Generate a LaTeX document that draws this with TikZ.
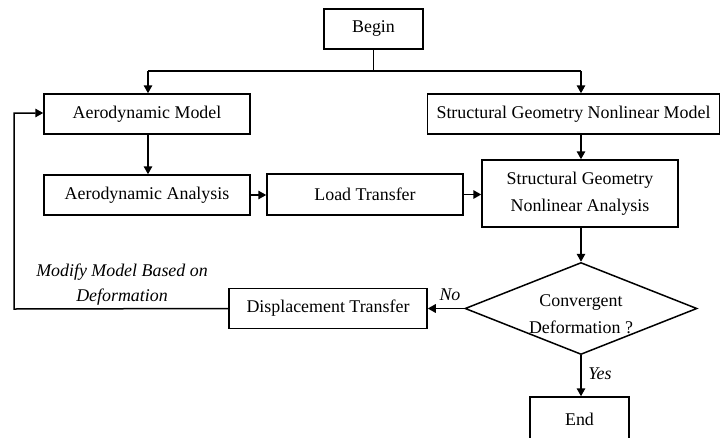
\documentclass[tikz,border=0pt]{standalone}
\usepackage{fontspec}
\setmainfont{Liberation Serif}
\usetikzlibrary{shapes.geometric,arrows.meta}
\begin{document}
\begin{tikzpicture}[x=1pt,y=-1pt,
  font=\fontsize{17.9}{26.5}\selectfont,
  every node/.style={inner sep=0pt},
  box/.style={draw,line width=1.5pt,minimum height=40pt,align=center},
  lbl/.style={font=\fontsize{17.9}{25}\selectfont\itshape,align=center},
  conn/.style={line width=1.5pt,-{Triangle[length=8pt,width=8.5pt]}},
  plain/.style={line width=1.5pt}]
\useasboundingbox (0,0) rectangle (721,437);
\node[box,minimum width=99pt] (begin) at (373.5,29) {Begin};
\node[box,minimum width=206pt] (am) at (147,114) {Aerodynamic Model};
\node[box,minimum width=292pt] (sgnm) at (573.5,114) {Structural Geometry Nonlinear Model};
\node[box,minimum width=206pt] (aa) at (147,195) {Aerodynamic Analysis};
\node[box,minimum width=196pt,minimum height=41pt] (lt) at (365,194.5) {Load Transfer};
\node[box,minimum width=196pt,minimum height=67pt] (sgna) at (580,193.5) {Structural Geometry\\Nonlinear Analysis};
\node[box,minimum width=198pt] (dt) at (328,308.5) {Displacement Transfer};
\node[draw,diamond,line width=1.5pt,minimum width=232pt,minimum height=92pt] (dec) at (581,308.5) {};
\node[align=center] (dectext) at (581,314) {Convergent\\Deformation ?};
\node[box,minimum width=99pt,minimum height=44pt] (end) at (579.5,419) {End};
\coordinate (split) at (373.5,71);
\coordinate (lsplit) at (148,71);
\coordinate (rsplit) at (581,71);
\coordinate (fbl) at (14,309);
\coordinate (fbt) at (14,113);
\draw[plain] (begin.south) -- (split);
\draw[plain] (lsplit) -- (rsplit);
\draw[conn] (lsplit) -- (lsplit |- am.north);
\draw[conn] (rsplit) -- (rsplit |- sgnm.north);
\draw[conn] (lsplit |- am.south) -- (lsplit |- aa.north);
\draw[conn] (aa.east) -- (aa.east -| lt.west);
\draw[conn] (lt.east) -- (lt.east -| sgna.west);
\draw[conn] (rsplit |- sgnm.south) -- (rsplit |- sgna.north);
\draw[conn] (rsplit |- sgna.south) -- (dec.north);
\draw[conn] (dec.west) -- (dec.west -| dt.east);
\draw[conn] (dec.south) -- (dec.south |- end.north);
\draw[conn] (dt.west) -- (fbl) -- (fbt) -- (fbt -| am.west);
\node[lbl] (nolbl) at (450,295) {No};
\node[lbl] (yeslbl) at (600,374) {Yes};
\node[lbl] (modlbl) at (122,284.5) {Modify Model Based on\\Deformation};
\end{tikzpicture}
\end{document}
